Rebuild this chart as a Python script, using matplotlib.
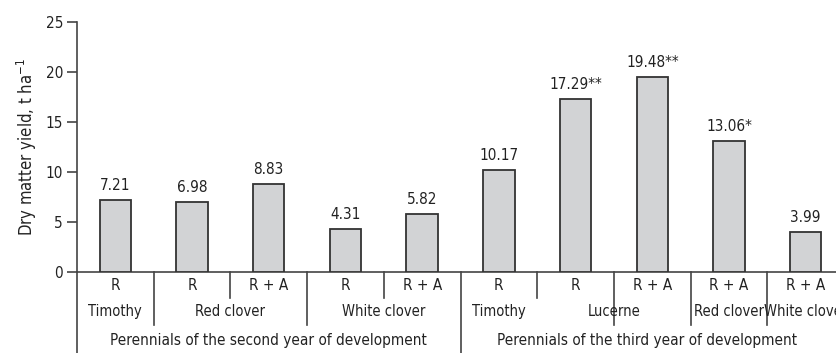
import matplotlib
matplotlib.use("Agg")
import matplotlib.pyplot as plt
from matplotlib.lines import Line2D

plt.rcParams['font.family'] = ['DejaVu Sans']
plt.rcParams['font.stretch'] = 'condensed'
plt.rcParams['mathtext.fontset'] = 'dejavusans'

treatments = ["R", "R", "R + A", "R", "R + A", "R", "R", "R + A", "R + A", "R + A"]
values = [7.21, 6.98, 8.83, 4.31, 5.82, 10.17, 17.29, 19.48, 13.06, 3.99]
value_labels = ["7.21", "6.98", "8.83", "4.31", "5.82", "10.17", "17.29**", "19.48**", "13.06*", "3.99"]
crops = ["Timothy", "Red clover", "White clover", "Timothy", "Lucerne", "Red clover", "White clover"]
crop_spans = [(0, 0), (1, 2), (3, 4), (5, 5), (6, 7), (8, 8), (9, 9)]
years = ["Perennials of the second year of development", "Perennials of the third year of development"]
year_pos = [2.0, 6.93]
yticks = [0, 5, 10, 15, 20, 25]

fig = plt.figure(figsize=(8.36, 3.53), dpi=100)
W, H = 836, 353
slot = 76.7
nslots = 11
ax = fig.add_axes([77 / W, (H - 272) / H, nslots * slot / W, 250 / H])

FS = 11
TC = "#222222"
LC = "#444444"

xs = list(range(len(values)))
ax.bar(xs, values, width=0.41, color="#d2d3d5", edgecolor="#333333", linewidth=1.3, zorder=3)
for x, v, lab in zip(xs, values, value_labels):
    ax.text(x, v + 0.7, lab, ha="center", va="bottom", fontsize=FS, color=TC)

ax.set_xlim(-0.5, nslots - 0.5)
ax.set_ylim(0, 25)
ax.set_yticks(yticks)
ax.set_xticks([])
ax.tick_params(axis="y", length=7, width=1.2, labelsize=FS, color=LC, labelcolor=TC, pad=3)
for s in ["top", "right"]:
    ax.spines[s].set_visible(False)
for s in ["left", "bottom"]:
    ax.spines[s].set_color(LC)
    ax.spines[s].set_linewidth(1.2)
ax.set_ylabel("Dry matter yield, t ha$^{\\mathregular{-1}}$", fontsize=12, color=TC, labelpad=5)

# extend left spine downward
ax.add_line(Line2D([-0.5, -0.5], [0, -8.5], color=LC, lw=1.2, clip_on=False))

# treatment labels
for x, t in zip(xs, treatments):
    ax.text(x, -1.35, t, ha="center", va="center", fontsize=FS, color=TC)

# crop labels
for c, (a, b) in zip(crops, crop_spans):
    ax.text((a + b) / 2, -3.95, c, ha="center", va="center", fontsize=10.5, color=TC)

# separators
for i in range(len(values)):
    bnd = i + 0.5
    if bnd == 4.5:
        ylow = -8.5
    elif bnd in (0.5, 2.5, 6.5, 7.5, 8.5):
        ylow = -5.3
    else:
        ylow = -2.6
    ax.add_line(Line2D([bnd, bnd], [0, ylow], color=LC, lw=1.2, clip_on=False))

for yr, xp in zip(years, year_pos):
    ax.text(xp, -6.8, yr, ha="center", va="center", fontsize=FS, color=TC)

fig.savefig("out.png", dpi=100)
